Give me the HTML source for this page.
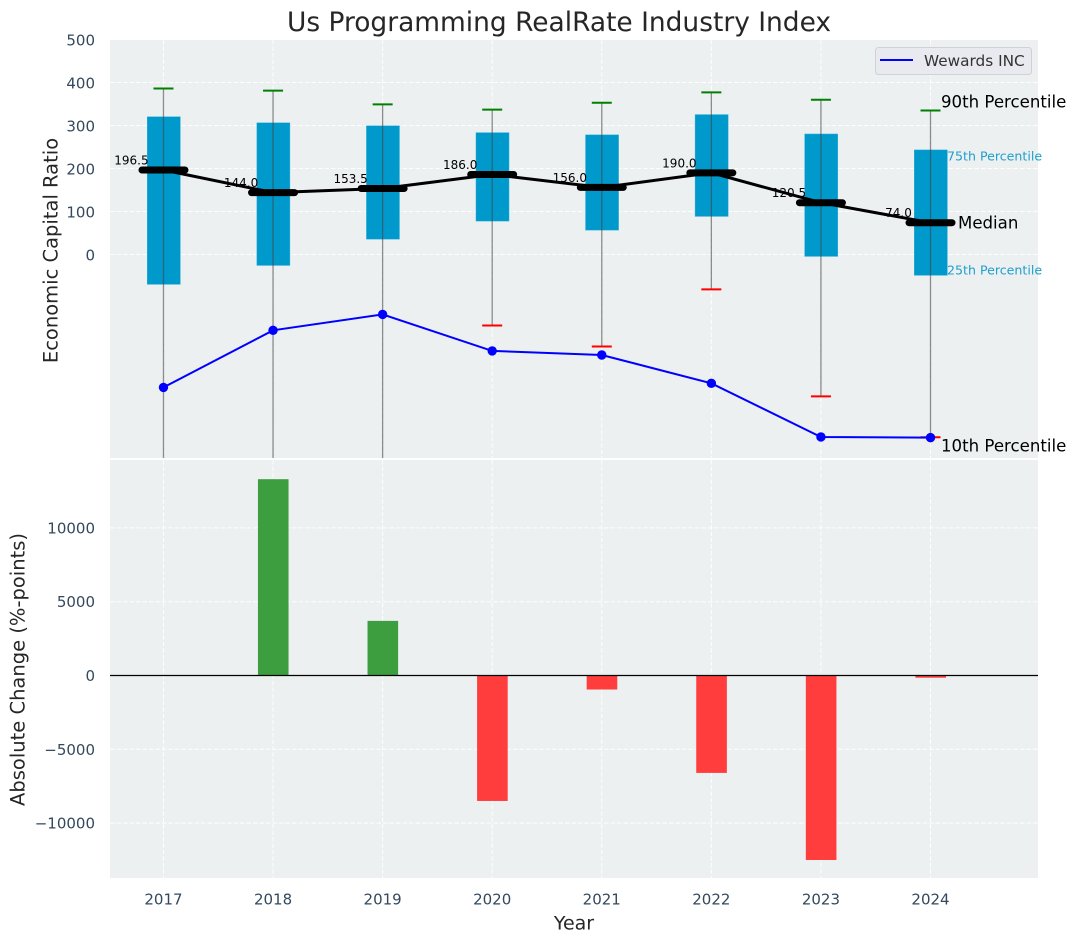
<!DOCTYPE html>
<html lang="en">
<head>
<meta charset="utf-8">
<title>Us Programming RealRate Industry Index</title>
<style>
html,body{margin:0;padding:0;background:#fff;width:1076px;height:942px;overflow:hidden}
svg{display:block;font-family:"DejaVu Sans","Liberation Sans",sans-serif}
</style>
</head>
<body>
<svg id="chart" xmlns="http://www.w3.org/2000/svg" width="1076" height="942" viewBox="0 0 1076 942">
<defs>
<clipPath id="top-clip"><rect x="110" y="40" width="928" height="418"/></clipPath>
</defs>
<rect x="110" y="40" width="928" height="418" fill="#ecf0f1"/>
<rect x="110" y="460" width="928" height="418" fill="#ecf0f1"/>
<g id="grid"></g>
<g id="marks-top" clip-path="url(#top-clip)"></g>
<g id="marks-bottom"></g>
<g id="labels"></g>
<g id="annotations"></g>
<text x="559" y="31" text-anchor="middle" font-size="26.45" fill="#262626">Us Programming RealRate Industry Index</text>
<text transform="translate(57.5 250.5) rotate(-90)" text-anchor="middle" font-size="19.5" fill="#262626">Economic Capital Ratio</text>
<text transform="translate(24.5 669.5) rotate(-90)" text-anchor="middle" font-size="19.5" fill="#262626">Absolute Change (%-points)</text>
<text x="574" y="929.5" text-anchor="middle" font-size="19" fill="#262626">Year</text>
<g>
<rect x="875.5" y="47.5" width="156" height="27" rx="3" fill="#e8eaf0" stroke="#cfd1d6" stroke-width="1"/>
<line x1="880" x2="913" y1="60" y2="60" stroke="#0000ff" stroke-width="2"/>
<text x="924" y="66" font-size="15.3" fill="#333333">Wewards INC</text>
</g>
</svg>
<script>
const years = [2017, 2018, 2019, 2020, 2021, 2022, 2023, 2024];
const p90 = [386, 381, 349, 337, 353, 377, 360, 335];
const p75 = [321, 307, 300, 284, 279, 326, 281, 244];
const medians = [196.5, 144.0, 153.5, 186.0, 156.0, 190.0, 120.5, 74.0];
const p25 = [-70, -26, 35, 77, 56, 88, -5, -49];
const p10 = [-600, -600, -600, -165, -214, -81, -330, -425];
const wewards = [20000, 33300, 37000, 28500, 27550, 20950, 8450, 8300];
const changes = [0, 13300, 3700, -8500, -950, -6600, -12500, -150];
const topTicks = [0, 100, 200, 300, 400, 500];
const bottomTicks = [-10000, -5000, 0, 5000, 10000];

const NS = 'http://www.w3.org/2000/svg';
const X_L = 110, X_R = 1038;
function scale(d0, d1, r0, r1) { return v => r0 + (v - d0) * (r1 - r0) / (d1 - d0); }
const x = scale(2016.512, 2024.981, X_L, X_R);
const yTop = scale(-472, 500, 457.5, 39.5);
const yTwin = scale(3457, 100851, 458.4, 40.4);
const yBot = scale(-13720, 14600, 878, 460);

function mk(tag, attrs, parent, txt) {
  const el = document.createElementNS(NS, tag);
  for (const k in attrs) el.setAttribute(k, attrs[k]);
  if (txt !== undefined) el.textContent = txt;
  parent.appendChild(el);
  return el;
}
const grid = document.getElementById('grid');
const top_ = document.getElementById('marks-top');
const bot = document.getElementById('marks-bottom');
const labels = document.getElementById('labels');
const notes = document.getElementById('annotations');
const GRID = {stroke: '#ffffff', 'stroke-width': 1, 'stroke-dasharray': '4.5 2', opacity: 0.9};
const TICK = '#34495e';

years.forEach(yr => {
  const a = mk('line', {x1: x(yr), x2: x(yr), y1: 40, y2: 458, ...GRID}, grid);
  
  
  const b = mk('line', {x1: x(yr), x2: x(yr), y1: 460, y2: 878, ...GRID}, grid);
  
  
  const t = mk('text', {x: x(yr), y: 904.5, 'text-anchor': 'middle', 'font-size': 15, fill: TICK}, labels, yr);
  
  
});
topTicks.forEach(v => {
  const l = mk('line', {x1: X_L, x2: X_R, y1: yTop(v), y2: yTop(v), ...GRID}, grid);
  
  
  const t = mk('text', {x: 95, y: yTop(v) + 6, 'text-anchor': 'end', 'font-size': 15, fill: TICK}, labels, v);
  
  
});
bottomTicks.forEach(v => {
  const l = mk('line', {x1: X_L, x2: X_R, y1: yBot(v), y2: yBot(v), ...GRID}, grid);
  
  
  const t = mk('text', {x: 95, y: yBot(v) + 5.5, 'text-anchor': 'end', 'font-size': 15, fill: TICK}, labels, String(v).replace('-', '\u2212'));
  
  
});

years.forEach((yr, i) => {
  const box = mk('rect', {x: x(yr) - 16.5, width: 33.6, y: yTop(p75[i]), height: yTop(p25[i]) - yTop(p75[i]), fill: '#0099cc', stroke: '#ffffff', 'stroke-opacity': 0.25, 'stroke-width': 1}, top_);
  
  
});
years.forEach((yr, i) => {
  const w = mk('line', {x1: x(yr), x2: x(yr), y1: yTop(p90[i]), y2: yTop(p10[i]), stroke: '#444444', 'stroke-opacity': 0.6, 'stroke-width': 1.3}, top_);
  
  
  const hi = mk('line', {x1: x(yr) - 10, x2: x(yr) + 10, y1: yTop(p90[i]), y2: yTop(p90[i]), stroke: '#008000', 'stroke-width': 2}, top_);
  
  
  const lo = mk('line', {x1: x(yr) - 10, x2: x(yr) + 10, y1: yTop(p10[i]), y2: yTop(p10[i]), stroke: '#ff0000', 'stroke-width': 2}, top_);
  
  
  const lab = mk('text', {x: x(yr) - 32, y: yTop(medians[i]) - 5.5, 'text-anchor': 'middle', 'font-size': 12, fill: '#000000'}, top_, medians[i].toFixed(1));
  
  
});

const medPath = mk('polyline', {points: years.map((yr, i) => x(yr) + ',' + yTop(medians[i])).join(' '), fill: 'none', stroke: '#000000', 'stroke-width': 3}, top_);


years.forEach((yr, i) => {
  const m = mk('line', {x1: x(yr) - 21.5, x2: x(yr) + 21.5, y1: yTop(medians[i]), y2: yTop(medians[i]), stroke: '#000000', 'stroke-width': 7, 'stroke-linecap': 'round'}, top_);
  
  
});

const wLine = mk('polyline', {points: years.map((yr, i) => x(yr) + ',' + yTwin(wewards[i])).join(' '), fill: 'none', stroke: '#0000ff', 'stroke-width': 2}, top_);


years.forEach((yr, i) => {
  const c = mk('circle', {cx: x(yr), cy: yTwin(wewards[i]), r: 4.7, fill: '#0000ff'}, top_);
  
  
});

years.forEach((yr, i) => {
  const v = changes[i];
  const r = mk('rect', {x: x(yr) - 15.1, width: 30.6, y: Math.min(yBot(v), yBot(0)), height: Math.abs(yBot(v) - yBot(0)), fill: v >= 0 ? '#3d9e40' : '#ff3d3d'}, bot);
  
  
});
const zero = mk('line', {x1: X_L, x2: X_R, y1: yBot(0), y2: yBot(0), stroke: '#000000', 'stroke-width': 1.2}, bot);



const last = years.length - 1, lx = x(years[last]);
const n90 = mk('text', {x: lx + 10.5, y: yTop(p90[last]) - 8.5, 'dominant-baseline': 'central', 'font-size': 16.6, fill: '#000000'}, notes, '90th Percentile');


const n75 = mk('text', {x: lx + 16.5, y: yTop(p75[last]) + 6.5, 'dominant-baseline': 'central', 'font-size': 12.6, fill: '#1f9fcc'}, notes, '75th Percentile');


const nM = mk('text', {x: lx + 27.5, y: yTop(medians[last]) + 0.5, 'dominant-baseline': 'central', 'font-size': 16.6, fill: '#000000'}, notes, 'Median');


const n25 = mk('text', {x: lx + 16.5, y: yTop(p25[last]) - 5.5, 'dominant-baseline': 'central', 'font-size': 12.6, fill: '#1f9fcc'}, notes, '25th Percentile');


const n10 = mk('text', {x: lx + 10.5, y: yTop(p10[last]) + 8.5, 'dominant-baseline': 'central', 'font-size': 16.6, fill: '#000000'}, notes, '10th Percentile');


</script>
</body>
</html>
